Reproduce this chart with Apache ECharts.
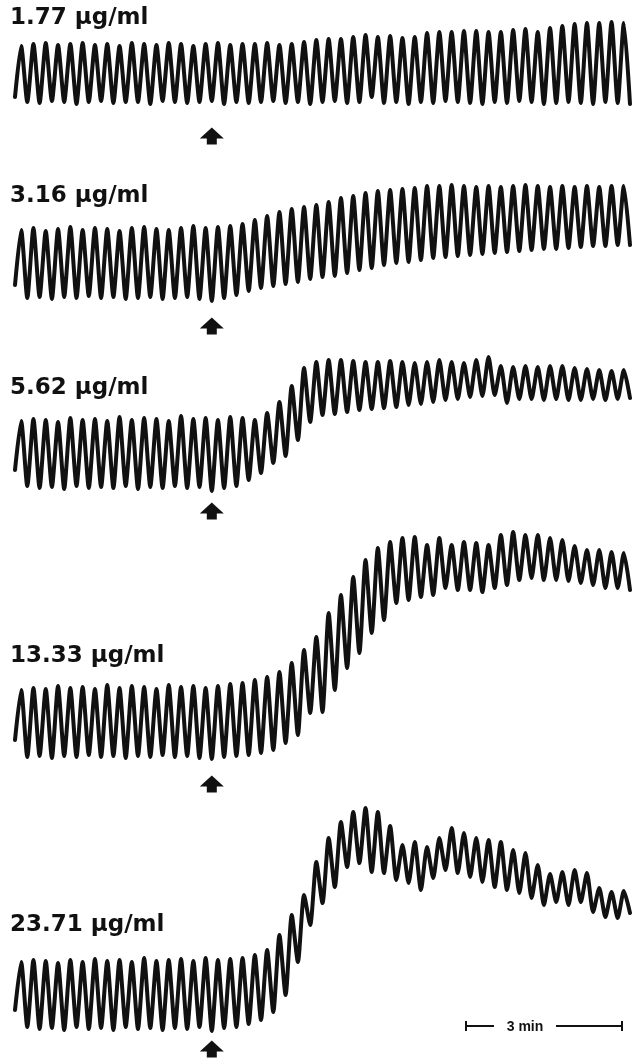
<!DOCTYPE html>
<html>
<head>
<meta charset="utf-8">
<script src="https://cdn.jsdelivr.net/npm/echarts@6/dist/echarts.min.js"></script>
<style>
  html, body { margin: 0; padding: 0; background: #fff; }
  #chart { width: 633px; height: 1062px; }
</style>
</head>
<body>
<div id="chart"></div>
<script>
// pen deflection of each trace, read per beat from the recording
// (0 = trough level before the drug was added, up = contraction)
var doses = ['1.77 μg/ml', '3.16 μg/ml', '5.62 μg/ml', '13.33 μg/ml', '23.71 μg/ml'];

var peaks_1 = [56, 58, 59, 57, 58, 59, 57, 58, 56, 59, 58, 57, 59, 58, 56, 58, 59, 57, 58, 58, 59, 57, 58, 60,
  62, 63, 63, 65, 67, 65, 66, 64, 65, 69, 70, 70, 71, 71, 70, 70, 72, 73, 70, 74, 76, 78, 79, 79, 80, 79];
var troughs_1 = [5, 0, -1, 1, 0, -2, 0, 1, -1, 0, 0, -2, 1, 0, -1, 0, 1, -2, 0, -1, 0, 1, -1, 0, -2, 0,
  1, -1, 0, 5, -1, 0, -2, 0, -1, 1, 0, -1, -2, 0, -1, 1, 0, -2, -1, 0, -1, -2, 0, -1, -2];

var peaks_2 = [68, 70, 67, 69, 71, 68, 70, 69, 67, 70, 71, 69, 68, 70, 72, 70, 71, 72,
  74, 78, 82, 86, 89, 91, 93, 96, 100, 102, 105, 107, 108, 109, 110, 112, 112, 113,
  112, 111, 112, 111, 112, 113, 112, 111, 112, 111, 112, 111, 112, 112];
var troughs_2 = [13, 0, 1, -1, 1, 0, 2, 0, 1, -1, 0, 1, -1, 0, 1, -1, -3, 0,
  3, 7, 10, 12, 14, 16, 19, 21, 22, 25, 28, 30, 33, 35, 36, 38, 40, 41, 42, 43, 44, 45, 46, 47,
  48, 49, 49, 50, 51, 52, 52, 53, 53];

var peaks_3 = [67, 69, 68, 66, 70, 68, 69, 67, 71, 68, 70, 69, 67, 72, 69, 70, 68, 71, 70,
  68, 75, 86, 102, 120, 126, 128, 128, 127, 126, 126, 127, 126, 125, 126, 128, 126, 125, 128, 131,
  122, 121, 122, 121, 122, 122, 120, 119, 118, 117, 118];
var troughs_3 = [18, 2, 0, 1, -1, 2, 0, 1, 0, 2, -1, 1, 0, 2, 0, 1, -3, 0,
  2, 8, 15, 25, 32, 48, 66, 73, 74, 76, 78, 79, 80, 81, 83, 84, 86, 88, 89, 91, 92, 93,
  85, 89, 89, 88, 89, 88, 88, 89, 88, 89, 90];

var peaks_4 = [67, 69, 68, 71, 69, 70, 68, 72, 69, 71, 70, 68, 72, 70, 71, 69, 71, 73, 74, 77,
  80, 85, 94, 107, 120, 144, 162, 180, 197, 209, 215, 219, 220, 212, 219, 212, 215, 214, 212, 222,
  225, 222, 222, 219, 217, 211, 207, 207, 205, 204];
var troughs_4 = [17, 0, 1, -1, 1, 0, 2, 0, 1, -1, 1, 0, 2, 0, 1, -1, -2, 0, 1, 2,
  4, 7, 14, 22, 44, 45, 67, 89, 104, 124, 137, 154, 157, 160, 162, 169, 167, 167, 165, 169,
  172, 177, 179, 177, 177, 176, 174, 172, 169, 169, 167];

var peaks_5 = [67, 69, 68, 66, 69, 67, 70, 68, 69, 67, 71, 68, 69, 70, 68, 71, 69, 70, 71,
  74, 79, 94, 114, 134, 167, 191, 207, 217, 221, 217, 203, 184, 187, 182, 191, 201, 196, 191, 189,
  187, 179, 176, 164, 155, 157, 159, 156, 141, 137, 138];
var troughs_5 = [19, 2, 0, 1, -1, 2, 0, 1, -1, 2, 0, 1, -1, 1, 0, 2, -2, 1, 2,
  5, 9, 17, 34, 67, 104, 126, 142, 162, 166, 157, 156, 149, 146, 139, 151, 159, 156, 152, 147,
  142, 139, 136, 131, 124, 127, 124, 127, 117, 112, 111, 116];

var allPeaks = [peaks_1, peaks_2, peaks_3, peaks_4, peaks_5];
var allTroughs = [troughs_1, troughs_2, troughs_3, troughs_4, troughs_5];

// beat (half cycle) where the drug was added, and level of the arrow mark under it
var arrowBeat = [32, 32, 32, 32, 32];
var arrowLevel = [-34, -28, -23, -27, -20];

// layout of the five panels (px) and their value window
var panelTop = [10, 170, 340, 520, 795];
var panelBottom = [912, 722, 542, 267, 0];
var yMin = [-48, -42, -32, -38, -33];
var yMax = [92, 128, 148, 237, 234];
var labelY = [21, 199, 391, 659, 928];

var chart = echarts.init(document.getElementById('chart'));

function trace(p, t) {
  var out = [];
  for (var k = 0; k < t.length; k++) {
    out.push(t[k]);
    if (k < p.length) out.push(p[k]);
  }
  return out;
}

var arrowPath = 'path://M12,0 L24,11 L17,11 L17,17 L7,17 L7,11 L0,11 Z';

var grids = [], xAxes = [], yAxes = [], series = [], graphics = [];
for (var i = 0; i < 5; i++) {
  var d = trace(allPeaks[i], allTroughs[i]);
  var cats = d.map(function (v, j) { return j; });
  grids.push({ left: 15, right: 3, top: panelTop[i], bottom: panelBottom[i] });
  xAxes.push({ type: 'category', gridIndex: i, data: cats, boundaryGap: false, show: false });
  yAxes.push({ type: 'value', gridIndex: i, min: yMin[i], max: yMax[i], show: false });
  series.push({
    type: 'line',
    xAxisIndex: i,
    yAxisIndex: i,
    data: d,
    smooth: 0.22,
    showSymbol: false,
    silent: true,
    lineStyle: { color: '#111', width: 4, cap: 'round', join: 'round' },
    markPoint: {
      symbol: arrowPath,
      symbolSize: [24, 17],
      itemStyle: { color: '#111' },
      label: { show: false },
      data: [{ coord: [arrowBeat[i], arrowLevel[i]] }]
    }
  });
  graphics.push({
    type: 'text',
    left: 10,
    top: labelY[i] - 14,
    style: {
      text: doses[i],
      font: 'bold 23px "DejaVu Sans"',
      fill: '#111'
    }
  });
}

// 3 min time bar
graphics.push(
  { type: 'line', shape: { x1: 466, y1: 1026, x2: 494, y2: 1026 }, style: { stroke: '#111', lineWidth: 2 } },
  { type: 'line', shape: { x1: 556, y1: 1026, x2: 622, y2: 1026 }, style: { stroke: '#111', lineWidth: 2 } },
  { type: 'line', shape: { x1: 466, y1: 1021, x2: 466, y2: 1031 }, style: { stroke: '#111', lineWidth: 2 } },
  { type: 'line', shape: { x1: 622, y1: 1021, x2: 622, y2: 1031 }, style: { stroke: '#111', lineWidth: 2 } },
  {
    type: 'text', x: 525, y: 1027,
    style: { text: '3 min', font: 'bold 14px "Liberation Sans"', fill: '#111', align: 'center', verticalAlign: 'middle' }
  }
);

chart.setOption({
  animation: false,
  backgroundColor: '#fff',
  grid: grids,
  xAxis: xAxes,
  yAxis: yAxes,
  series: series,
  graphic: graphics
});
</script>
</body>
</html>
